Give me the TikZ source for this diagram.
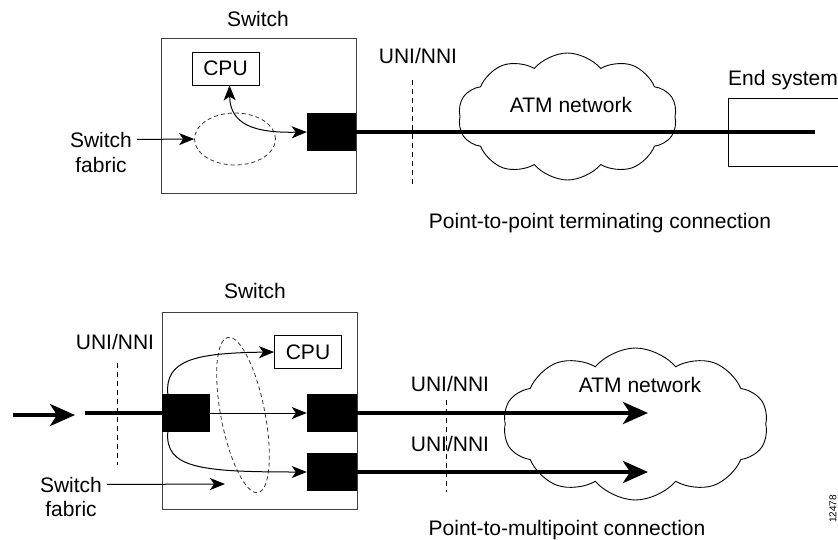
\documentclass[tikz,border=0pt]{standalone}
\usepackage{fontspec}
\setmainfont{Liberation Sans}
\usetikzlibrary{arrows.meta,shapes.geometric,shapes.symbols}

\begin{document}
\begin{tikzpicture}[x=1pt,y=-1pt,>={Stealth[length=15pt,width=12pt,inset=4pt]},
        txt/.style = {font=\fontsize{21}{25}\selectfont, inner sep=0pt, anchor=base},
        sw/.style = {draw=black!75, line width=1pt, inner sep=0pt, minimum width=195pt},
        cpu/.style = {draw, line width=0.9pt, inner sep=0pt, minimum width=67pt, minimum height=33pt, font=\fontsize{21}{25}\selectfont},
        port/.style = {fill=black, inner sep=0pt, minimum width=49pt, minimum height=38pt},
        fab/.style = {draw=black!80, ellipse, dash pattern=on 4pt off 3pt, line width=0.8pt, inner sep=0pt},
        uni/.style = {dash pattern=on 5pt off 4pt, line width=0.8pt},
        thin/.style = {line width=1pt},
        thick/.style = {line width=4.5pt},
        big/.style = {line width=4.5pt, -{Stealth[length=25pt,width=22pt,inset=7pt]}},
        net/.style = {draw, cloud, cloud puffs=10, cloud puff arc=100, cloud ignores aspect, line width=0.9pt, inner sep=0pt}]
                \useasboundingbox (0,0) rectangle (838,539);

                \node[txt] (t1) at (258,26) {Switch};
                \node[sw, minimum height=155pt] (s1) at (258.5,115.5) {};
                \node[cpu] (c1) at (225.5,68.5) {CPU};
                \node[port] (p1) at (331.5,132) {};
                \node[fab, minimum width=81pt, minimum height=52pt] (f1) at (235,139) {};
                \node[txt] (l1) at (101,147) {Switch};
                \node[txt] (l1b) at (101,172) {fabric};
                \node[txt] (u1) at (418,63) {UNI/NNI};
                \coordinate (u1a) at (412,80);
                \coordinate (u1b) at (412,187);
                \node[net, minimum width=219pt, minimum height=127pt] (n1) at (567.5,116.5) {};
                \node[txt] (a1) at (571,112) {ATM network};
                \node[draw, line width=0.9pt, inner sep=0pt, minimum width=142pt, minimum height=68pt] (e1) at (799,132) {};
                \node[txt, anchor=base west] (el) at (728,85) {End system};
                \coordinate (end1) at (815,132);
                \node[txt] (cap1) at (600,228) {Point-to-point terminating connection};
                \draw[uni] (u1a) -- (u1b);
                \draw[thin, ->, shorten <=5pt] (l1.east) -- (f1.west);
                \draw[thin, <->] ([xshift=4pt]c1.south) .. controls (230,125) and (255,133) .. (p1.west);
                \draw[thick] (p1.east) -- (end1);

                \node[txt] (t2) at (255,298) {Switch};
                \node[sw, minimum height=197pt] (s2) at (259.5,410.5) {};
                \node[cpu] (c2) at (308,352) {CPU};
                \node[port, minimum width=48pt] (p2) at (186,413) {};
                \node[port, minimum width=50pt] (p3) at (332,413) {};
                \node[port, minimum width=50pt] (p4) at (332,472) {};
                \node[fab, minimum width=44pt, minimum height=158pt, rotate=11] (f2) at (243,415) {};
                \node[txt] (l2) at (71,492) {Switch};
                \node[txt] (l2b) at (71,516) {fabric};
                \coordinate (f2in) at (225,484);
                \node[txt] (u2) at (115,349) {UNI/NNI};
                \coordinate (u2a) at (117,363);
                \coordinate (u2b) at (117,465);
                \node[net, minimum width=265pt, minimum height=152pt] (n2) at (635.5,424) {};
                \node[txt] (a2) at (640,392) {ATM network};
                \node[txt] (u3) at (450,391) {UNI/NNI};
                \node[txt] (u4) at (450,451) {UNI/NNI};
                \coordinate (u3a) at (446,400);
                \coordinate (u3b) at (446,492);
                \coordinate (src0) at (13,415);
                \coordinate (src1) at (75,415);
                \coordinate (src2) at (85,413);
                \coordinate (dst1) at (648,413);
                \coordinate (dst2) at (648,472);
                \node[txt] (cap2) at (567,535) {Point-to-multipoint connection};
                \node[rotate=90, inner sep=0pt, font=\fontsize{10}{12}\selectfont] (id) at (833,509) {12478};
                \draw[uni] (u2a) -- (u2b);
                \draw[uni] (u3a) -- (u3b);
                \draw[big] (src0) -- (src1);
                \draw[thick] (src2) -- (p2.west);
                \draw[thin, ->] (p2.east) -- (p3.west);
                \draw[thin, ->] ([xshift=6pt]p2.north west) .. controls (165,360) and (195,353) .. (c2.west);
                \draw[thin, ->] ([xshift=6pt]p2.south west) .. controls (165,468) and (200,472) .. (p4.west);
                \draw[thin, ->, shorten <=5pt] (l2.east) -- (f2in);
                \draw[big] (p3.east) -- (dst1);
                \draw[big] (p4.east) -- (dst2);
            \end{tikzpicture}
\end{document}
